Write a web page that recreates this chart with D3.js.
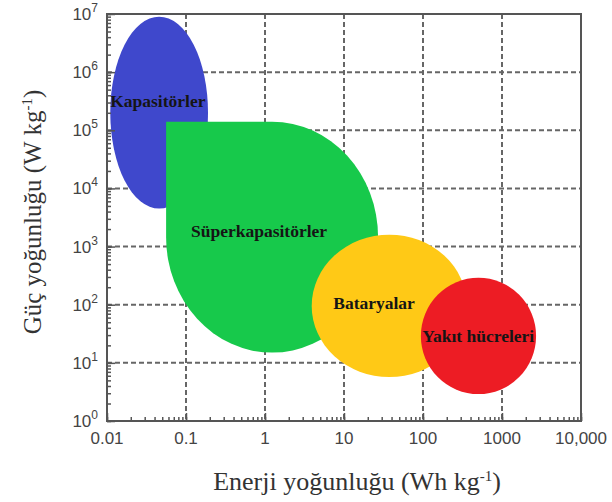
<!DOCTYPE html>
<html>
<head>
<meta charset="utf-8">
<script src="https://cdn.jsdelivr.net/npm/d3@7"></script>
<style>
  body { margin: 0; background: #fff; }
</style>
</head>
<body>
<div id="chart"></div>
<script>
// Data
// =================================
var regions = ["Kapasitörler", "Süperkapasitörler", "Bataryalar", "Yakıt hücreleri"];
var colors = ["#3f48cc", "#17c94b", "#ffc916", "#ed1c24"];
// extent of each region (Wh/kg and W/kg)
var energyMin = [0.011, 0.056, 3.9, 94];
var energyMax = [0.19, 27, 360, 2700];
var powerMin = [4500, 15, 5.7, 2.9];
var powerMax = [9e6, 1.4e5, 1600, 290];
// where the labels sit
var labelEnergy = [0.044, 0.84, 24, 500];
var labelPower = [3.2e5, 1.86e3, 107, 29];

var xTickValues = [0.01, 0.1, 1, 10, 100, 1000, 10000];
var xTickLabels = ["0.01", "0.1", "1", "10", "100", "1000", "10,000"];
var yTickValues = [1, 10, 100, 1e3, 1e4, 1e5, 1e6, 1e7];
var yTickExp = ["0", "1", "2", "3", "4", "5", "6", "7"];

// Set up the chart
var svgWidth = 612;
var svgHeight = 502;
var margin = { top: 14, right: 31, bottom: 81, left: 107 };
var width = svgWidth - margin.left - margin.right;
var height = svgHeight - margin.top - margin.bottom;

var svg = d3.select("#chart")
    .append("svg")
    .attr("width", svgWidth)
    .attr("height", svgHeight)
    .style("background", "#fff");

var chartGroup = svg.append("g")
    .attr("transform", `translate(${margin.left}, ${margin.top})`);

// Scales
var x = d3.scaleLog().domain([0.01, 10000]).range([0, width]);
var y = d3.scaleLog().domain([1, 1e7]).range([height, 0]);

// Dashed grid
var gridColor = "#666";
chartGroup.append("g")
    .selectAll("line")
    .data(xTickValues.slice(1, -1))
    .enter()
    .append("line")
    .attr("x1", d => x(d)).attr("x2", d => x(d))
    .attr("y1", 0).attr("y2", height)
    .attr("stroke", gridColor)
    .attr("stroke-width", 2)
    .attr("stroke-dasharray", "5,3");

chartGroup.append("g")
    .selectAll("line")
    .data(yTickValues.slice(1, -1))
    .enter()
    .append("line")
    .attr("y1", d => y(d)).attr("y2", d => y(d))
    .attr("x1", 0).attr("x2", width)
    .attr("stroke", gridColor)
    .attr("stroke-width", 2)
    .attr("stroke-dasharray", "5,3");

// Regions
function box(i) {
    return {
        l: x(energyMin[i]), r: x(energyMax[i]),
        t: y(powerMax[i]), b: y(powerMin[i])
    };
}

// capacitors, batteries, fuel cells are ellipses
[0, 2, 3].forEach(function(i) {
    var bb = box(i);
    chartGroup.append("ellipse")
        .attr("cx", (bb.l + bb.r) / 2)
        .attr("cy", (bb.t + bb.b) / 2)
        .attr("rx", (bb.r - bb.l) / 2)
        .attr("ry", (bb.b - bb.t) / 2)
        .attr("fill", colors[i])
        .attr("class", "region-" + i);
});

// supercapacitors: rounded shape with a square top-left corner
var sb = box(1);
var scx = (sb.l + sb.r) / 2;
var scy = (sb.t + sb.b) / 2;
var superPath = `M${sb.l},${sb.t} L${scx},${sb.t}
    A${sb.r - scx},${scy - sb.t} 0 0 1 ${sb.r},${scy}
    A${sb.r - scx},${sb.b - scy} 0 0 1 ${scx},${sb.b}
    A${scx - sb.l},${sb.b - scy} 0 0 1 ${sb.l},${scy} Z`;

// keep paint order: blue, green, yellow, red
chartGroup.insert("path", ".region-2")
    .attr("d", superPath)
    .attr("fill", colors[1]);

// Region labels
chartGroup.selectAll(".regionLabel")
    .data(regions)
    .enter()
    .append("text")
    .attr("class", "regionLabel")
    .attr("x", (d, i) => x(labelEnergy[i]))
    .attr("y", (d, i) => y(labelPower[i]))
    .attr("dy", "0.35em")
    .attr("text-anchor", "middle")
    .attr("font-family", "'Liberation Serif', 'Times New Roman', serif")
    .attr("font-weight", "bold")
    .attr("font-size", 17.5)
    .attr("fill", "#151515")
    .text(d => d);

// Ticks pointing inward
var axisColor = "#555";
var leftAxis = d3.axisLeft(y).tickSize(-4).tickFormat("").tickSizeOuter(0);
var bottomAxis = d3.axisBottom(x).tickSize(-4).tickFormat("").tickSizeOuter(0);

chartGroup.append("g").call(leftAxis);
chartGroup.append("g")
    .attr("transform", `translate(0, ${height})`)
    .call(bottomAxis);

chartGroup.append("g").call(d3.axisLeft(y).tickValues(yTickValues).tickSize(-8).tickFormat("").tickSizeOuter(0));
chartGroup.append("g")
    .attr("transform", `translate(0, ${height})`)
    .call(d3.axisBottom(x).tickValues(xTickValues).tickSize(-8).tickFormat("").tickSizeOuter(0));

chartGroup.selectAll(".tick line").attr("stroke", axisColor).attr("stroke-width", 1.5);
chartGroup.selectAll(".domain").remove();

// Frame
chartGroup.append("rect")
    .attr("width", width)
    .attr("height", height)
    .attr("fill", "none")
    .attr("stroke", axisColor)
    .attr("stroke-width", 2);

// Tick labels
var tickFont = "'Liberation Sans', Arial, Helvetica, sans-serif";
chartGroup.selectAll(".xLabel")
    .data(xTickLabels)
    .enter()
    .append("text")
    .attr("class", "xLabel")
    .attr("x", (d, i) => x(xTickValues[i]))
    .attr("y", height + 23)
    .attr("text-anchor", "middle")
    .attr("font-family", tickFont)
    .attr("font-size", 17)
    .attr("fill", "#444")
    .text(d => d);

var yLabels = chartGroup.selectAll(".yLabel")
    .data(yTickValues)
    .enter()
    .append("text")
    .attr("class", "yLabel")
    .attr("x", -9)
    .attr("y", d => y(d) + 6)
    .attr("text-anchor", "end")
    .attr("font-family", tickFont)
    .attr("font-size", 17)
    .attr("fill", "#444");
yLabels.append("tspan").text("10");
yLabels.append("tspan")
    .attr("dy", -8)
    .attr("font-size", 12)
    .text((d, i) => yTickExp[i]);

// Axis titles
var titleFont = "'Liberation Serif', 'Times New Roman', serif";
var xTitle = svg.append("text")
    .attr("x", 357)
    .attr("y", 490)
    .attr("text-anchor", "middle")
    .attr("font-family", titleFont)
    .attr("font-size", 26)
    .attr("fill", "#333");
xTitle.append("tspan").text("Enerji yoğunluğu (Wh kg");
xTitle.append("tspan").attr("dy", -9).attr("font-size", 15).text("-1");
xTitle.append("tspan").attr("dy", 9).text(")");

var yTitle = svg.append("text")
    .attr("transform", "translate(41, 212) rotate(-90)")
    .attr("text-anchor", "middle")
    .attr("font-family", titleFont)
    .attr("font-size", 25)
    .attr("fill", "#333");
yTitle.append("tspan").text("Güç yoğunluğu (W kg");
yTitle.append("tspan").attr("dy", -9).attr("font-size", 15).text("-1");
yTitle.append("tspan").attr("dy", 9).text(")");
</script>
</body>
</html>
